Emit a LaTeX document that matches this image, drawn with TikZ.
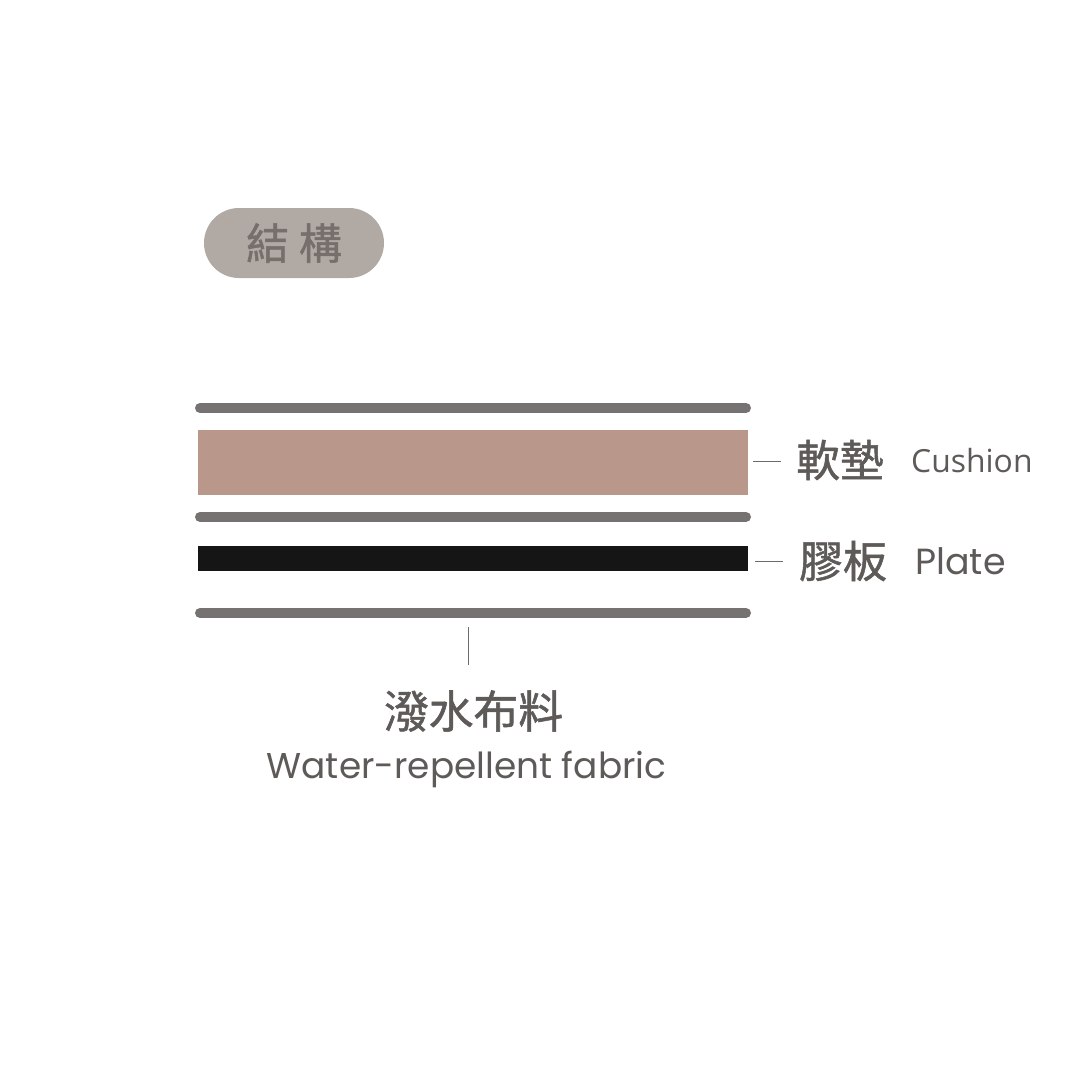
\documentclass[tikz,border=0pt]{standalone}
\usepackage{fontspec}
\newfontfamily\cjk[FakeBold=1.2]{Noto Sans CJK TC}
\newfontfamily\geo{Poppins}
\newfontfamily\hum{Open Sans}
\definecolor{bargray}{HTML}{777272}
\definecolor{cushion}{HTML}{BA978B}
\definecolor{platec}{HTML}{151515}
\definecolor{badgefill}{HTML}{B1A9A4}
\definecolor{badgetext}{HTML}{766F6C}
\definecolor{txt}{HTML}{5E5A58}
\definecolor{leader}{HTML}{6E6A68}
\tikzset{
  fabricbar/.style={line width=10bp, line cap=round, draw=bargray},
  leaderline/.style={draw=leader, line width=1bp},
  cjklabel/.style={inner sep=0pt, text=txt, font=\cjk\fontsize{44}{44}\selectfont},
  enlabel/.style={inner sep=0pt, text=txt},
}
\begin{document}
\begin{tikzpicture}[x=1bp,y=-1bp]
\useasboundingbox[fill=white] (0,0) rectangle (1080,1080);
% badge
\node[fill=badgefill, rounded corners=35bp, minimum width=180bp, minimum height=70bp, inner sep=0pt,
  text=badgetext, font=\cjk\fontsize{43}{43}\selectfont] (badge) at (294,243) {結\hspace{10bp}構};
% layers
\draw[fabricbar] (200,408) coordinate (b1l) -- (746,408) coordinate (b1r);
\node[fill=cushion, minimum width=550bp, minimum height=65bp, inner sep=0pt] (cush) at (473,462.5) {};
\draw[fabricbar] (200,517) coordinate (b2l) -- (746,517) coordinate (b2r);
\node[fill=platec, minimum width=550bp, minimum height=25bp, inner sep=0pt] (plate) at (473,558.5) {};
\draw[fabricbar] (200,613) coordinate (b3l) -- (746,613) coordinate (b3r);
% right labels
\coordinate (c1a) at (753,461);
\coordinate (c1b) at (781,461);
\draw[leaderline] (c1a) -- (c1b);
\node[cjklabel, anchor=west] (cushzh) at (796,460) {軟墊};
\node[enlabel, anchor=west, font=\hum\fontsize{32}{32}\selectfont] (cushen) at (911,461) {Cushion};
\coordinate (c2a) at (755,561);
\coordinate (c2b) at (783,561);
\draw[leaderline] (c2a) -- (c2b);
\node[cjklabel, anchor=west] (platezh) at (799,561) {膠板};
\node[enlabel, anchor=west, font=\geo\fontsize{36.5}{36.5}\selectfont] (plateen) at (915,561) {Plate};
% bottom
\coordinate (v1) at (468,627);
\coordinate (v2) at (468,665);
\draw[leaderline] (v1) -- (v2);
\node[cjklabel, font=\cjk\fontsize{45}{45}\selectfont] (fabzh) at (473.5,711) {潑水布料};
\node[enlabel, font=\geo\fontsize{36}{36}\selectfont] (faben) at (466.5,769) {Water-repellent fabric};
\end{tikzpicture}
\end{document}
